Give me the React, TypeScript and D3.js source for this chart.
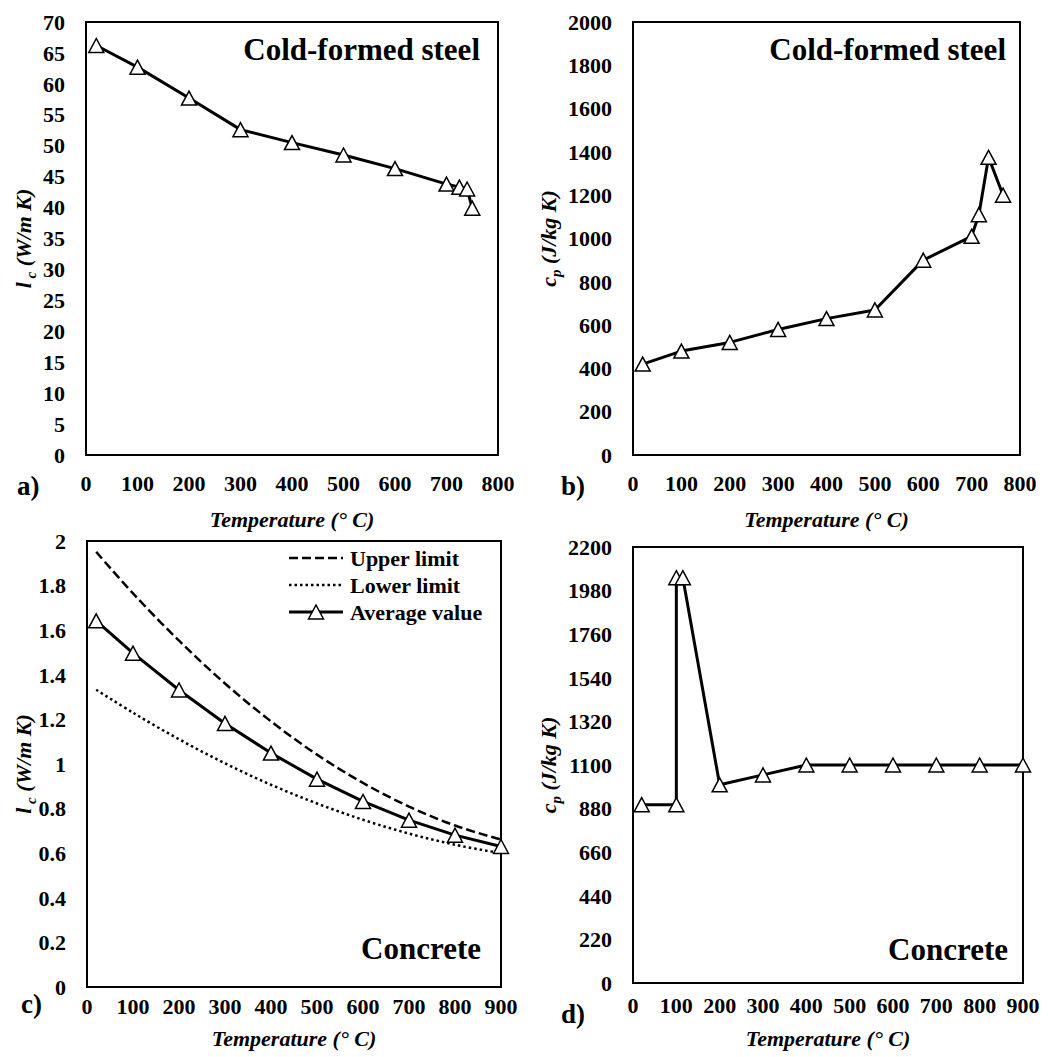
import React from "react";
import * as d3 from "d3";

// panel a: cold-formed steel, thermal conductivity
const steelKTemp = [20, 100, 200, 300, 400, 500, 600, 700, 725, 740, 750];
const steelK = [66.2, 62.7, 57.7, 52.6, 50.5, 48.5, 46.3, 43.8, 43.3, 43.0, 39.9];
const steelKTicks = [0, 5, 10, 15, 20, 25, 30, 35, 40, 45, 50, 55, 60, 65, 70];

// panel b: cold-formed steel, specific heat
const steelCpTemp = [20, 100, 200, 300, 400, 500, 600, 700, 715, 735, 765];
const steelCp = [420, 480, 520, 580, 630, 670, 900, 1010, 1110, 1375, 1200];
const steelCpTicks = [0, 200, 400, 600, 800, 1000, 1200, 1400, 1600, 1800, 2000];

// panel c: concrete, thermal conductivity
const concreteKTemp = [20, 100, 200, 300, 400, 500, 600, 700, 800, 900];
const concreteUpper = [1.951, 1.765, 1.553, 1.361, 1.191, 1.042, 0.915, 0.809, 0.724, 0.661];
const concreteLower = [1.333, 1.230, 1.111, 1.003, 0.907, 0.823, 0.750, 0.688, 0.638, 0.600];
const concreteAvg = [1.642, 1.497, 1.332, 1.182, 1.049, 0.932, 0.832, 0.748, 0.681, 0.630];
const concreteKTicks = [0, 0.2, 0.4, 0.6, 0.8, 1, 1.2, 1.4, 1.6, 1.8, 2];

// panel d: concrete, specific heat
const concreteCpTemp = [20, 100, 100, 115, 200, 300, 400, 500, 600, 700, 800, 900];
const concreteCp = [900, 900, 2045, 2045, 1000, 1050, 1100, 1100, 1100, 1100, 1100, 1100];
const concreteCpTicks = [0, 220, 440, 660, 880, 1100, 1320, 1540, 1760, 1980, 2200];

const temp800 = [0, 100, 200, 300, 400, 500, 600, 700, 800];
const temp900 = [0, 100, 200, 300, 400, 500, 600, 700, 800, 900];

const legendItems = ["Upper limit", "Lower limit", "Average value"];

const FONT = "Liberation Serif";
const triangle = "M0,-7L7.5,7L-7.5,7Z";
const fmt = d3.format("~g");

const Marker = ({ x, y }: { x: number; y: number }) => (
  <path d={triangle} transform={`translate(${x},${y})`} fill="#fff" stroke="#000" strokeWidth={1.5} />
);

const Panel = (p: any) => {
  const x = d3.scaleLinear().domain([0, p.xMax]).range([p.left, p.right]);
  const y = d3.scaleLinear().domain([0, p.yMax]).range([p.bottom, p.top]);
  const line = d3.line<any>().x((d) => x(d[0])).y((d) => y(d[1]));
  const smooth = d3.line<any>().x((d) => x(d[0])).y((d) => y(d[1])).curve(d3.curveCatmullRom);
  const pts = d3.zip(p.xs, p.ys);

  return (
    <g fontFamily={FONT} fontWeight="bold">
      {/* y tick labels */}
      {p.yTicks.map((t: number) => (
        <text key={"y" + t} x={p.left - 21} y={y(t)} dy="0.35em" textAnchor="end" fontSize={22}>
          {fmt(t)}
        </text>
      ))}
      {/* x tick labels */}
      {p.xTicks.map((t: number) => (
        <text key={"x" + t} x={x(t)} y={p.bottom + p.xPad} dy="0.71em" textAnchor="middle" fontSize={22}>
          {t}
        </text>
      ))}
      <rect x={p.left} y={p.top} width={p.right - p.left} height={p.bottom - p.top}
        fill="none" stroke="#000" strokeWidth={2} />

      {(p.extra || []).map((s: any, i: number) => (
        <path key={"e" + i} d={smooth(d3.zip(s.xs, s.ys)) as string} fill="none" stroke="#000"
          strokeWidth={2.5} strokeDasharray={s.dash} />
      ))}

      <path d={line(pts) as string} fill="none" stroke="#000" strokeWidth={3} strokeLinejoin="round" />
      {pts.map((d: any, i: number) => <Marker key={"m" + i} x={x(d[0])} y={y(d[1])} />)}

      <text x={p.nameX} y={p.nameY} textAnchor="end" fontSize={31}>{p.name}</text>

      <text x={(p.left + p.right) / 2} y={p.xTitleY} textAnchor="middle" fontSize={22} fontStyle="italic">
        Temperature (° C)
      </text>

      <text transform={`translate(${p.yTitleX},${(p.top + p.bottom) / 2}) rotate(-90)`}
        textAnchor="middle" fontSize={22} fontStyle="italic">
        <tspan>{p.yMain}</tspan>
        <tspan fontSize={15} dy={5}>{p.ySub}</tspan>
        <tspan dy={-5}>{" (" + p.yUnit + ")"}</tspan>
      </text>

      <text x={p.letterX} y={p.letterY} fontSize={27}>{p.letter}</text>

      {p.legend && legendItems.map((label, i) => {
        const ly = 558 + i * 27;
        return (
          <g key={label}>
            <line x1={289} x2={343} y1={ly} y2={ly} stroke="#000"
              strokeWidth={i === 2 ? 3 : 2.5} strokeDasharray={p.extra[i] ? p.extra[i].dash : undefined} />
            {i === 2 && <Marker x={316} y={ly} />}
            <text x={350} y={ly} dy="0.35em" fontSize={22}>{label}</text>
          </g>
        );
      })}
    </g>
  );
};

const App = () => (
  <svg width={1054} height={1057} fontFamily={FONT}
    style={{ position: "absolute", left: 0, top: 0, background: "#fff" }}>
    <Panel left={86} right={498} top={22} bottom={455} xMax={800} yMax={70}
      xTicks={temp800} yTicks={steelKTicks} xPad={20}
      xs={steelKTemp} ys={steelK}
      name="Cold-formed steel" nameX={480} nameY={60}
      xTitleY={527} yTitleX={31} yMain="l" ySub=" c" yUnit="W/m K"
      letter="a)" letterX={17} letterY={495} />
    <Panel left={633} right={1020} top={22} bottom={455} xMax={800} yMax={2000}
      xTicks={temp800} yTicks={steelCpTicks} xPad={20}
      xs={steelCpTemp} ys={steelCp}
      name="Cold-formed steel" nameX={1006} nameY={60}
      xTitleY={527} yTitleX={556} yMain="c" ySub="p" yUnit="J/kg K"
      letter="b)" letterX={561} letterY={495} />
    <Panel left={87} right={501} top={541} bottom={987} xMax={900} yMax={2}
      xTicks={temp900} yTicks={concreteKTicks} xPad={11}
      xs={concreteKTemp} ys={concreteAvg}
      extra={[
        { xs: concreteKTemp, ys: concreteUpper, dash: "9,4" },
        { xs: concreteKTemp, ys: concreteLower, dash: "2.5,3" },
      ]}
      legend
      name="Concrete" nameX={481} nameY={959}
      xTitleY={1046} yTitleX={31} yMain="l" ySub=" c" yUnit="W/m K"
      letter="c)" letterX={21} letterY={1013} />
    <Panel left={633} right={1023} top={547} bottom={983} xMax={900} yMax={2200}
      xTicks={temp900} yTicks={concreteCpTicks} xPad={14}
      xs={concreteCpTemp} ys={concreteCp}
      name="Concrete" nameX={1008} nameY={960}
      xTitleY={1046} yTitleX={556} yMain="c" ySub="p" yUnit="J/kg K"
      letter="d)" letterX={561} letterY={1023} />
  </svg>
);

export default App;
